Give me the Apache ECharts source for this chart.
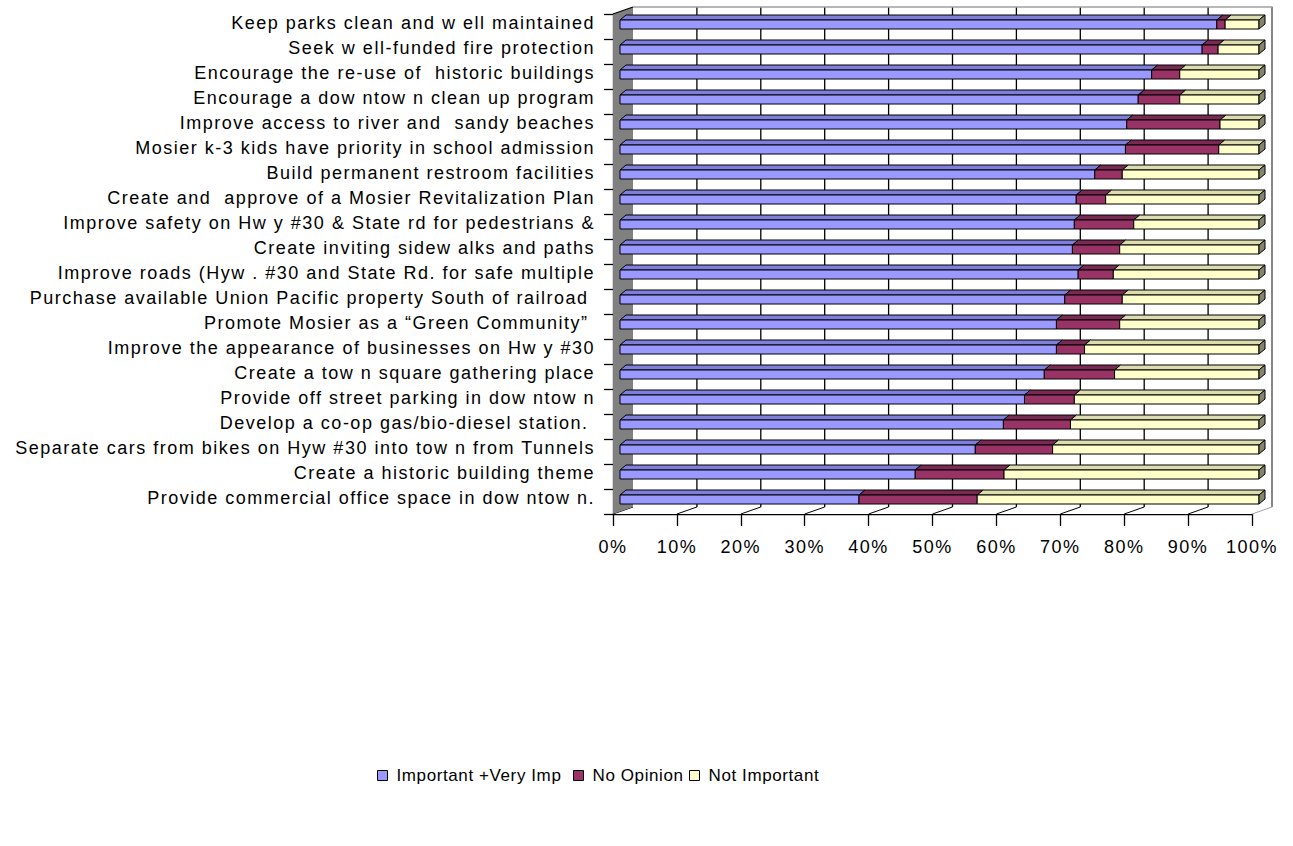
<!DOCTYPE html>
<html>
<head>
<meta charset="utf-8">
<script src="https://cdn.jsdelivr.net/npm/echarts@6/dist/echarts.min.js"></script>
<style>
  html, body { margin: 0; padding: 0; background: #fff; }
  #main { width: 1293px; height: 846px; }
  #main text { letter-spacing: 1.5px; }
  #main text[text-anchor="start"] { letter-spacing: 0.6px; }
</style>
</head>
<body>
<div id="main"></div>
<script>
const categories = [
  "Keep parks clean and w ell maintained",
  "Seek w ell-funded fire protection",
  "Encourage the re-use of  historic buildings",
  "Encourage a dow ntow n clean up program",
  "Improve access to river and  sandy beaches",
  "Mosier k-3 kids have priority in school admission",
  "Build permanent restroom facilities",
  "Create and  approve of a Mosier Revitalization Plan",
  "Improve safety on Hw y #30 & State rd for pedestrians &",
  "Create inviting sidew alks and paths",
  "Improve roads (Hyw . #30 and State Rd. for safe multiple",
  "Purchase available Union Pacific property South of railroad ",
  "Promote Mosier as a \u201cGreen Community\u201d ",
  "Improve the appearance of businesses on Hw y #30",
  "Create a tow n square gathering place",
  "Provide off street parking in dow ntow n",
  "Develop a co-op gas/bio-diesel station. ",
  "Separate cars from bikes on Hyw #30 into tow n from Tunnels",
  "Create a historic building theme",
  "Provide commercial office space in dow ntow n."
];
const importantVeryImp = [93.4, 91.1, 83.2, 81.1, 79.3, 79.1, 74.3, 71.4, 71.1, 70.8, 71.7, 69.6, 68.3, 68.3, 66.4, 63.3, 60.0, 55.6, 46.2, 37.4];
const noOpinion        = [1.3, 2.5, 4.4, 6.5, 14.6, 14.6, 4.3, 4.6, 9.3, 7.4, 5.5, 9.0, 9.9, 4.4, 11.0, 7.8, 10.5, 12.1, 13.9, 18.5];
const notImportant     = [5.3, 6.4, 12.4, 12.4, 6.1, 6.3, 21.4, 24.0, 19.6, 21.8, 22.8, 21.4, 21.8, 27.3, 22.6, 28.9, 29.5, 32.3, 39.9, 44.1];
const seriesNames = ["Important +Very Imp", "No Opinion", "Not Important"];
const tickValues = [0, 10, 20, 30, 40, 50, 60, 70, 80, 90, 100];

const FONT = "'Liberation Sans', Arial, sans-serif";
const DEPTH = [20, -7];          // wall depth offset
const BAR_SHIFT = 7;             // bar front face offset from front plane
const BAR_DEPTH = [6, -5];       // bar top face depth

const faceStyles = [
  { front: '#9999FF', top: '#7E7EDC', side: '#6A6AB8' },
  { front: '#993366', top: '#7A2952', side: '#5E1F3F' },
  { front: '#FFFFCC', top: '#DCDCAE', side: '#85856B' }
];

function stackData(idx) {
  const arrs = [importantVeryImp, noOpinion, notImportant];
  return categories.map((c, i) => {
    let s = 0;
    for (let k = 0; k < idx; k++) s += arrs[k][i];
    return [s, s + arrs[idx][i], i];
  });
}

function barRender(idx) {
  return function (params, api) {
    const s = api.value(0), e = api.value(1), c = api.value(2);
    const p0 = api.coord([s, c]);
    const p1 = api.coord([e, c]);
    const band = api.size([0, 1])[1];
    const x0 = p0[0] + BAR_SHIFT, x1 = p1[0] + BAR_SHIFT;
    const yT = p0[1] - band * 0.26;
    const yB = p0[1] + band * 0.1;
    const dx = BAR_DEPTH[0], dy = BAR_DEPTH[1];
    const st = faceStyles[idx];
    const line = { stroke: '#000', lineWidth: 1 };
    const children = [
      { type: 'polygon', shape: { points: [[x0, yT], [x1, yT], [x1 + dx, yT + dy], [x0 + dx, yT + dy]] },
        style: Object.assign({ fill: st.top }, line) },
      { type: 'rect', shape: { x: x0, y: yT, width: x1 - x0, height: yB - yT },
        style: Object.assign({ fill: st.front }, line) }
    ];
    if (idx === 2) {
      children.push({ type: 'polygon', shape: { points: [[x1, yT], [x1 + dx, yT + dy], [x1 + dx, yB + dy], [x1, yB]] },
        style: Object.assign({ fill: st.side }, line) });
    }
    return { type: 'group', children };
  };
}

function wallRender(params, api) {
  const cs = params.coordSys;
  const x0 = cs.x, y0 = cs.y, w = cs.width, h = cs.height;
  const dx = DEPTH[0], dy = DEPTH[1];
  const children = [];
  children.push({ type: 'rect', shape: { x: x0 + dx, y: y0 + dy, width: w, height: h },
    style: { fill: '#fff', stroke: null } });
  children.push({ type: 'polygon', shape: { points: [[x0, y0 + h], [x0 + w, y0 + h], [x0 + w + dx, y0 + h + dy], [x0 + dx, y0 + h + dy]] },
    style: { fill: '#fff', stroke: null } });
  tickValues.forEach(v => {
    const px = api.coord([v, 0])[0];
    if (v > 0) {
      children.push({ type: 'line', shape: { x1: px + dx, y1: y0 + dy, x2: px + dx, y2: y0 + h + dy },
        style: { stroke: '#000', lineWidth: 1.3 } });
    }
    children.push({ type: 'line', shape: { x1: px, y1: y0 + h, x2: px + dx, y2: y0 + h + dy },
      style: { stroke: v === 100 ? '#A0A0A0' : '#000', lineWidth: 1 } });
  });
  children.push({ type: 'polyline', shape: { points: [[x0 + dx, y0 + dy], [x0 + w + dx, y0 + dy], [x0 + w + dx, y0 + h + dy]] },
    style: { stroke: '#A0A0A0', lineWidth: 1.3, fill: null } });
  children.push({ type: 'polygon', shape: { points: [[x0, y0], [x0 + dx, y0 + dy], [x0 + dx, y0 + h + dy], [x0, y0 + h]] },
    style: { fill: '#808080', stroke: null } });
  children.push({ type: 'line', shape: { x1: x0, y1: y0, x2: x0 + dx, y2: y0 + dy },
    style: { stroke: '#000', lineWidth: 1.3 } });
  return { type: 'group', children };
}

const chart = echarts.init(document.getElementById('main'), null, { renderer: 'svg', width: 1293, height: 846 });

const legendLefts = [372, 568, 684];

chart.setOption({
  animation: false,
  backgroundColor: '#fff',
  textStyle: { fontFamily: FONT },
  grid: { left: 613, right: 41, top: 14, bottom: 332, containLabel: false },
  legend: seriesNames.map((n, i) => ({
    data: [n],
    left: legendLefts[i],
    top: 762,
    icon: 'rect',
    itemWidth: 10,
    itemHeight: 10,
    selectedMode: false,
    itemStyle: { borderColor: '#000', borderWidth: 1 },
    textStyle: { fontFamily: FONT, fontSize: 17, color: '#000', padding: [0, 0, 0, 4] }
  })),
  xAxis: {
    type: 'value', min: 0, max: 100, interval: 10,
    axisLine: { show: true, lineStyle: { color: '#000', width: 1.3 } },
    axisTick: { show: true, length: 12, lineStyle: { color: '#000', width: 1.3 } },
    splitLine: { show: false },
    axisLabel: { formatter: '{value}%', fontSize: 18, color: '#000', fontFamily: FONT, margin: 24 }
  },
  yAxis: {
    type: 'category', data: categories, inverse: true,
    axisLine: { show: true, lineStyle: { color: '#000', width: 1.3 } },
    axisTick: { show: true, length: 9, lineStyle: { color: '#000', width: 1.3 } },
    axisLabel: { fontSize: 18, color: '#000', fontFamily: FONT, margin: 18, interval: 0,
                 verticalAlign: 'bottom', lineHeight: 8 },
    splitLine: { show: false }
  },
  series: [
    { type: 'custom', name: '_walls', data: [[0, 0]], renderItem: wallRender, z: 1, silent: true, encode: { x: 0, y: 1 } },
    ...seriesNames.map((n, i) => ({
      type: 'custom', name: n, data: stackData(i), renderItem: barRender(i), z: 3 + i,
      itemStyle: { color: faceStyles[i].front, borderColor: '#000', borderWidth: 1 },
      encode: { x: [0, 1], y: 2 }
    }))
  ]
});
</script>
</body>
</html>
